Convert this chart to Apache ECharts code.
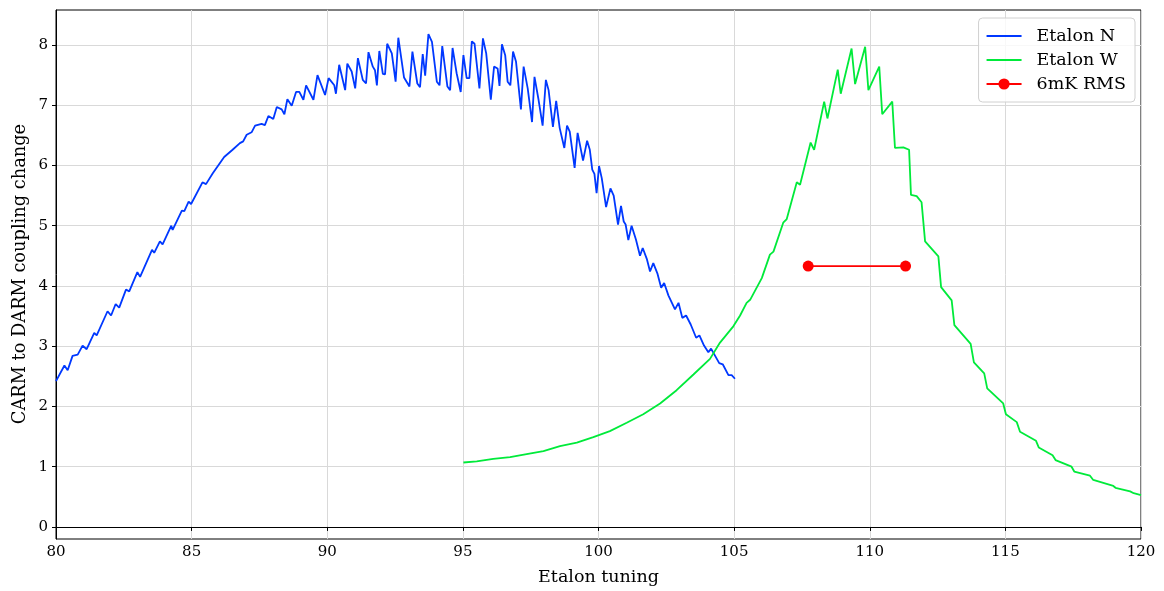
<!DOCTYPE html>
<html>
<head>
<meta charset="utf-8">
<script src="https://cdn.jsdelivr.net/npm/echarts@6/dist/echarts.min.js"></script>
<style>
html,body{margin:0;padding:0;background:#fff;}
#chart{width:1164px;height:591px;}
</style>
</head>
<body>
<div id="chart"></div>
<script>
const xTicks = [80, 85, 90, 95, 100, 105, 110, 115, 120];
const yTicks = [0, 1, 2, 3, 4, 5, 6, 7, 8];

const blueX = [80.0,80.31,80.43,80.61,80.8,80.98,81.13,81.41,81.5,81.9,82.03,82.2,82.33,82.58,82.7,83.0,83.1,83.54,83.62,83.83,83.93,84.25,84.3,84.64,84.73,84.89,84.98,85.4,85.53,85.78,86.2,86.51,86.78,86.9,87.03,87.21,87.34,87.58,87.7,87.83,88.01,88.14,88.32,88.42,88.53,88.69,88.85,88.97,89.12,89.22,89.49,89.64,89.92,90.05,90.26,90.32,90.44,90.66,90.74,90.9,91.03,91.13,91.31,91.43,91.52,91.68,91.76,91.83,91.92,92.05,92.13,92.21,92.38,92.52,92.62,92.83,93.03,93.14,93.32,93.42,93.52,93.61,93.73,93.86,94.04,94.14,94.24,94.43,94.53,94.62,94.77,94.92,95.02,95.14,95.24,95.33,95.43,95.61,95.74,95.86,96.03,96.15,96.28,96.35,96.44,96.56,96.65,96.75,96.85,96.96,97.14,97.24,97.39,97.55,97.64,97.79,97.94,98.06,98.16,98.32,98.44,98.57,98.74,98.84,98.94,99.12,99.23,99.43,99.58,99.68,99.77,99.85,99.93,100.02,100.12,100.28,100.44,100.56,100.72,100.83,100.93,101.0,101.1,101.22,101.38,101.53,101.63,101.78,101.9,102.02,102.17,102.31,102.42,102.58,102.82,102.95,103.09,103.23,103.4,103.6,103.72,103.89,104.05,104.15,104.3,104.45,104.58,104.79,104.91,105.03];
const blueY = [2.42,2.68,2.60,2.84,2.86,3.01,2.95,3.22,3.18,3.58,3.51,3.70,3.64,3.94,3.91,4.23,4.15,4.60,4.55,4.74,4.69,5.00,4.93,5.25,5.24,5.40,5.36,5.72,5.69,5.87,6.14,6.26,6.37,6.40,6.51,6.55,6.66,6.69,6.67,6.82,6.77,6.97,6.93,6.85,7.10,6.99,7.22,7.22,7.09,7.33,7.09,7.50,7.17,7.45,7.33,7.19,7.67,7.25,7.69,7.56,7.28,7.78,7.42,7.36,7.88,7.64,7.58,7.33,7.90,7.52,7.51,8.02,7.86,7.39,8.12,7.46,7.31,7.89,7.36,7.30,7.85,7.49,8.18,8.05,7.39,7.33,7.98,7.31,7.25,7.95,7.53,7.22,7.83,7.45,7.45,8.06,8.02,7.28,8.11,7.86,7.09,7.64,7.61,7.32,8.01,7.83,7.39,7.33,7.89,7.72,6.93,7.64,7.28,6.72,7.47,7.09,6.66,7.42,7.25,6.64,7.07,6.62,6.29,6.66,6.56,5.96,6.54,6.08,6.41,6.26,5.93,5.86,5.54,5.99,5.79,5.31,5.62,5.50,5.02,5.33,5.07,5.02,4.76,5.00,4.77,4.50,4.63,4.45,4.24,4.38,4.21,3.97,4.05,3.84,3.61,3.72,3.47,3.51,3.36,3.14,3.18,3.01,2.90,2.96,2.84,2.72,2.70,2.52,2.52,2.46];

const greenX = [95.02,95.51,96.12,96.74,97.35,97.97,98.58,99.2,99.81,100.42,101.04,101.65,102.27,102.88,103.5,104.11,104.48,104.97,105.22,105.46,105.59,106.02,106.32,106.45,106.81,106.94,107.31,107.43,107.82,107.95,108.32,108.44,108.82,108.93,109.33,109.46,109.83,109.95,110.35,110.46,110.83,110.93,111.24,111.45,111.52,111.73,111.91,112.04,112.53,112.63,113.02,113.12,113.72,113.84,114.22,114.33,114.92,115.02,115.42,115.54,116.13,116.23,116.74,116.85,117.44,117.54,118.12,118.24,118.98,119.06,119.6,119.73,120.0];
const greenY = [1.07,1.09,1.13,1.16,1.21,1.26,1.34,1.40,1.49,1.59,1.73,1.87,2.05,2.27,2.53,2.79,3.06,3.33,3.51,3.72,3.77,4.13,4.52,4.57,5.05,5.11,5.72,5.68,6.38,6.26,7.06,6.78,7.59,7.19,7.94,7.35,7.97,7.25,7.64,6.85,7.06,6.29,6.30,6.26,5.51,5.49,5.39,4.74,4.49,3.98,3.76,3.35,3.04,2.73,2.55,2.30,2.05,1.87,1.74,1.58,1.43,1.32,1.19,1.11,1.00,0.92,0.85,0.78,0.68,0.65,0.59,0.56,0.53];

const rmsX = [107.73, 111.32];
const rmsY = [4.33, 4.33];

const seriesNames = ['Etalon N', 'Etalon W', '6mK RMS'];
const xLabel = 'Etalon tuning';
const yLabel = 'CARM to DARM coupling change';

const zip = (xs, ys) => xs.map((x, i) => [x, ys[i]]);
const FONT = '"DejaVu Serif", serif';
const BLUE = '#0038ff', GREEN = '#00ea3a', RED = '#ff0000';
const LINE_ICON = 'path://M0,0L35,0L35,1.8L0,1.8Z';

const chart = echarts.init(document.getElementById('chart'), null, {renderer: 'canvas'});
chart.setOption({
  animation: false,
  backgroundColor: '#ffffff',
  grid: {left: 56, right: 23, top: 10, bottom: 51, show: true, borderColor: '#000', borderWidth: 1, containLabel: false},
  legend: {
    orient: 'vertical', right: 29, top: 18,
    data: [{name: seriesNames[0], icon: LINE_ICON}, {name: seriesNames[1], icon: LINE_ICON}, {name: seriesNames[2]}],
    itemWidth: 35, itemHeight: 14, itemGap: 6,
    padding: [9, 9, 9, 7],
    backgroundColor: 'rgba(255,255,255,0.8)',
    borderColor: '#d0d0d0', borderWidth: 1, borderRadius: 4,
    textStyle: {fontFamily: FONT, fontSize: 17.5, lineHeight: 18, color: '#000', padding: [0, 0, 0, 10]}
  },
  xAxis: {
    type: 'value', min: 80, max: 120, interval: 5,
    name: xLabel, nameLocation: 'middle', nameGap: 29,
    nameTextStyle: {fontFamily: FONT, fontSize: 17.5, color: '#000'},
    axisLine: {show: true, lineStyle: {color: '#000', width: 1}},
    axisTick: {show: true, length: 4, lineStyle: {color: '#000'}},
    axisLabel: {fontFamily: FONT, fontSize: 15, color: '#000', margin: 6},
    splitLine: {show: true, lineStyle: {color: '#d9d9d9', width: 1}}
  },
  yAxis: {
    type: 'value', min: -0.2, max: 8.58,
    axisLine: {show: true, lineStyle: {color: '#000', width: 1}},
    axisTick: {show: true, length: 4, lineStyle: {color: '#000'}, customValues: yTicks},
    axisLabel: {fontFamily: FONT, fontSize: 15, color: '#000', margin: 8, customValues: yTicks},
    splitLine: {show: true, lineStyle: {color: '#d9d9d9', width: 1}}
  },
  graphic: [{
    type: 'text',
    x: 20, y: 274,
    rotation: Math.PI / 2,
    style: {text: yLabel, fontFamily: FONT, fontSize: 17.8, fill: '#000', align: 'center', verticalAlign: 'middle'},
    z: 10
  }],
  series: [
    {name: seriesNames[0], type: 'line', data: zip(blueX, blueY), showSymbol: false, symbol: 'none',
     lineStyle: {color: BLUE, width: 1.8}, itemStyle: {color: BLUE}},
    {name: seriesNames[1], type: 'line', data: zip(greenX, greenY), showSymbol: false, symbol: 'none',
     lineStyle: {color: GREEN, width: 1.8}, itemStyle: {color: GREEN}},
    {name: seriesNames[2], type: 'line', data: zip(rmsX, rmsY), symbol: 'circle', symbolSize: 11,
     lineStyle: {color: RED, width: 1.8}, itemStyle: {color: RED}}
  ]
});
</script>
</body>
</html>
